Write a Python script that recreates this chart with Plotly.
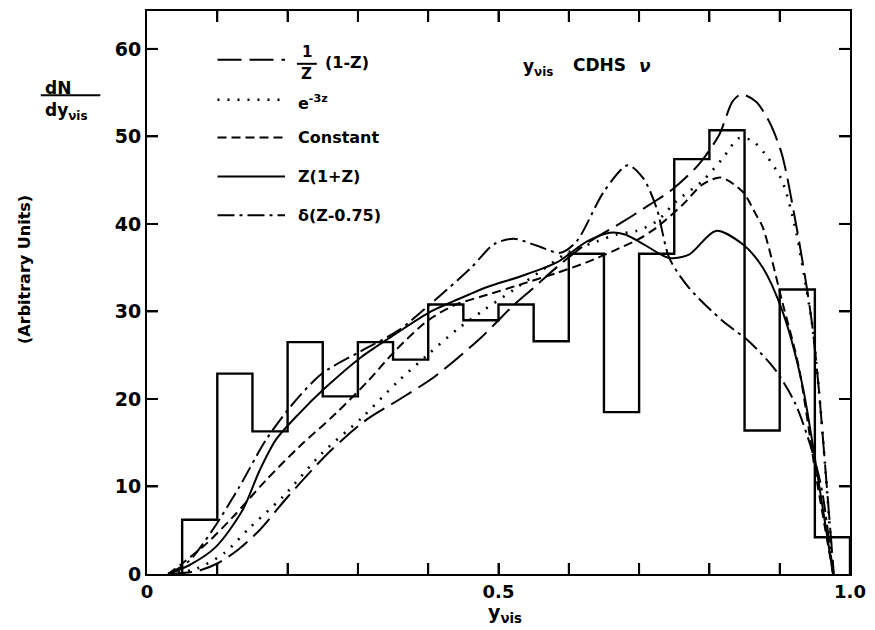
import plotly.graph_objects as go

# ---------------- data ----------------
bin_edges = [0.05, 0.10, 0.15, 0.20, 0.25, 0.30, 0.35, 0.40, 0.45, 0.50,
             0.55, 0.60, 0.65, 0.70, 0.75, 0.80, 0.85, 0.90, 0.95, 1.00]
bin_counts = [6.2, 22.9, 16.3, 26.5, 20.3, 26.5, 24.5, 30.8, 29.0, 30.8,
              26.6, 36.6, 18.5, 36.6, 47.4, 50.7, 16.4, 32.5, 4.2]

inv_x = [0.03, 0.07, 0.10, 0.13, 0.16, 0.20, 0.26, 0.31, 0.36, 0.41, 0.475, 0.52, 0.55,
         0.585, 0.63, 0.68, 0.715, 0.745, 0.785, 0.814, 0.833, 0.845, 0.866, 0.885,
         0.903, 0.922, 0.936, 0.946, 0.955, 0.965, 0.977]
inv_y = [0, 0.3, 1.2, 2.8, 5.0, 8.8, 14.0, 17.5, 20.0, 22.6, 27.0, 30.6, 32.7,
         35.2, 38.0, 40.4, 42.2, 43.8, 46.8, 50.2, 54.0, 54.8, 54.0, 51.7,
         48.0, 40.5, 34.0, 28.6, 21.7, 12.0, 0]

exp_x = [0.03, 0.07, 0.11, 0.145, 0.193, 0.249, 0.305, 0.357, 0.40, 0.442, 0.48, 0.522,
         0.56, 0.60, 0.64, 0.668, 0.696, 0.725, 0.753, 0.79, 0.819, 0.842, 0.861, 0.88,
         0.903, 0.922, 0.936, 0.946, 0.955, 0.965, 0.976]
exp_y = [0, 0.6, 2.4, 5.2, 8.8, 13.8, 17.8, 22.0, 25.1, 28.0, 30.2, 32.5,
         34.6, 36.8, 38.0, 38.8, 39.2, 40.3, 42.6, 44.9, 47.5, 49.8, 49.5, 47.9,
         45.0, 39.6, 33.5, 28.6, 21.7, 12.0, 0]

const_x = [0.03, 0.05, 0.085, 0.122, 0.169, 0.216, 0.268, 0.315, 0.353, 0.40, 0.44, 0.484,
           0.54, 0.583, 0.625, 0.663, 0.70, 0.725, 0.762, 0.79, 0.816, 0.847, 0.866, 0.876,
           0.904, 0.927, 0.95, 0.976]
const_y = [0, 1.2, 3.5, 6.5, 10.7, 14.5, 18.3, 22.1, 25.5, 29.0, 30.8, 31.9,
           33.3, 34.4, 35.6, 36.9, 38.3, 39.6, 42.2, 44.5, 45.3, 43.7, 41.1, 39.6,
           31.0, 23.7, 12.0, 0]

zz_x = [0.03, 0.06, 0.098, 0.136, 0.16, 0.183, 0.216, 0.254, 0.305, 0.353, 0.404, 0.437,
        0.484, 0.531, 0.583, 0.626, 0.658, 0.68, 0.706, 0.743, 0.771, 0.809, 0.847, 0.876,
        0.904, 0.932, 0.955, 0.976]
zz_y = [0, 1.0, 3.1, 7.3, 11.8, 15.3, 18.3, 21.3, 24.8, 27.4, 30.0, 31.2,
        32.8, 34.0, 35.6, 38.0, 39.0, 38.8, 37.7, 36.1, 36.5, 39.2, 37.7, 35.0,
        30.0, 21.7, 10.7, 0]

dlt_x = [0.03, 0.06, 0.093, 0.131, 0.169, 0.207, 0.249, 0.305, 0.357, 0.404, 0.461, 0.494,
         0.522, 0.555, 0.588, 0.611, 0.65, 0.684, 0.706, 0.725, 0.743, 0.771, 0.819, 0.856,
         0.894, 0.922, 0.946, 0.96, 0.976]
dlt_y = [0, 1.5, 5.0, 9.9, 15.3, 19.4, 22.9, 25.5, 27.8, 30.9, 35.0, 37.7,
         38.3, 37.5, 36.7, 38.0, 43.7, 46.7, 45.2, 41.8, 36.1, 32.7, 28.9, 26.6,
         23.3, 19.5, 14.1, 9.6, 0]

x_label_vals = [0, 0.5, 1.0]
x_label_text = ["0", "0.5", "1.0"]
x_tick_vals = [0.1, 0.2, 0.3, 0.4, 0.5, 0.6, 0.7, 0.8, 0.9]
y_tick_vals = [0, 10, 20, 30, 40, 50, 60]

legend_labels = ["(1-Z)", "e<sup>-3z</sup>", "Constant", "Z(1+Z)", "δ(Z-0.75)"]

# ---------------- styles ----------------
FONT = "DejaVu Sans"
W, H = 875, 630
L, R, T, B = 147, 855, 9, 574
TICK = 11  # tick length, px

def PX(px):
    return (px - L) / (R - L)

def PY(py):
    return (B - py) / (B - T)

styles = [
    dict(dash="24px,8px", width=2),           # 1/Z(1-Z)
    dict(dash="2px,8px", width=2.6),          # e^-3z
    dict(dash="9px,5px", width=2),            # Constant
    dict(dash="solid", width=2),              # Z(1+Z)
    dict(dash="17px,5px,3px,5px", width=2),   # delta
]

fig = go.Figure()

# histogram outline built from bin edges / counts (drawn on the tick-carrying x2 axis)
hx, hy = [bin_edges[0]], [0]
for i, v in enumerate(bin_counts):
    hx += [bin_edges[i], bin_edges[i + 1]]
    hy += [v, v]
hx.append(bin_edges[-1])
hy.append(0)
fig.add_trace(go.Scatter(x=hx, y=hy, mode="lines", xaxis="x2",
                         line=dict(color="black", width=2.4), hoverinfo="skip"))

curves = [(inv_x, inv_y), (exp_x, exp_y), (const_x, const_y), (zz_x, zz_y), (dlt_x, dlt_y)]
for (cx, cy), st in zip(curves, styles):
    fig.add_trace(go.Scatter(x=cx, y=cy, mode="lines",
                             line=dict(color="black", width=st["width"], dash=st["dash"],
                                       shape="spline", smoothing=0.8)))

shapes = []
annotations = []

# inward ticks on all four sides, placed through the axis scales
tick_line = dict(color="black", width=2)
for v in x_tick_vals:
    shapes.append(dict(type="line", xref="x", yref="paper", x0=v, x1=v,
                       y0=0, y1=TICK / (B - T), line=tick_line))
    shapes.append(dict(type="line", xref="x", yref="paper", x0=v, x1=v,
                       y0=1, y1=1 - TICK / (B - T), line=tick_line))
for v in y_tick_vals[1:]:
    shapes.append(dict(type="line", xref="paper", yref="y", y0=v, y1=v,
                       x0=0, x1=TICK / (R - L), line=tick_line))
    shapes.append(dict(type="line", xref="paper", yref="y", y0=v, y1=v,
                       x0=1, x1=1 - TICK / (R - L), line=tick_line))

# legend samples and labels
rows = [58, 98, 136, 175, 214]
for st, ry in zip(styles, rows):
    shapes.append(dict(type="line", xref="paper", yref="paper",
                       x0=PX(218), x1=PX(286), y0=PY(ry), y1=PY(ry),
                       line=dict(color="black", width=st["width"], dash=st["dash"])))

# fraction 1/Z
annotations.append(dict(text="1", x=PX(308), y=PY(50), font=dict(size=15)))
shapes.append(dict(type="line", xref="paper", yref="paper",
                   x0=PX(298), x1=PX(318), y0=PY(62), y1=PY(62),
                   line=dict(color="black", width=2)))
annotations.append(dict(text="Z", x=PX(308), y=PY(72), font=dict(size=15)))
annotations.append(dict(text=legend_labels[0], x=PX(324), y=PY(61), xanchor="left"))
annotations.append(dict(text=legend_labels[1], x=PX(297), y=PY(101), xanchor="left"))
for lab, ry in zip(legend_labels[2:], rows[2:]):
    annotations.append(dict(text=lab, x=PX(297), y=PY(ry), xanchor="left"))

# title text inside plot
annotations.append(dict(text="y<sub>νis</sub>", x=PX(524), y=PY(66), xanchor="left", font=dict(size=17)))
annotations.append(dict(text="CDHS", x=PX(574), y=PY(63), xanchor="left", font=dict(size=17)))
annotations.append(dict(text="<i>ν</i>", x=PX(640), y=PY(64), xanchor="left", font=dict(size=17)))

# y-axis label dN/dy
annotations.append(dict(text="dN", x=PX(57), y=PY(86), font=dict(size=17)))
shapes.append(dict(type="line", xref="paper", yref="paper",
                   x0=PX(40), x1=PX(100), y0=PY(93.5), y1=PY(93.5),
                   line=dict(color="black", width=2)))
annotations.append(dict(text="dy<sub>νis</sub>", x=PX(66), y=PY(110), font=dict(size=17)))
annotations.append(dict(text="(Arbitrary Units)", x=PX(23), y=PY(268), textangle=-90,
                        font=dict(size=16)))
# x-axis label
annotations.append(dict(text="y<sub>νis</sub>", x=PX(508), y=PY(614), font=dict(size=19)))

for a in annotations:
    a.setdefault("xref", "paper")
    a.setdefault("yref", "paper")
    a.setdefault("showarrow", False)
    a.setdefault("xanchor", "center")
    a.setdefault("yanchor", "middle")
    a.setdefault("font", dict(size=16))
    a["font"] = dict(family=FONT, color="black", weight="bold", **a["font"])

fig.update_layout(
    width=W, height=H,
    margin=dict(l=L, r=W - R, t=T, b=H - B, pad=0),
    paper_bgcolor="white", plot_bgcolor="white",
    showlegend=False,
    shapes=shapes, annotations=annotations,
    font=dict(family=FONT, color="black", size=18, weight="bold"),
    xaxis=dict(range=[0, 1.0], tickvals=x_label_vals, ticktext=x_label_text,
               ticks="", showline=True, linewidth=2, linecolor="black", mirror=True,
               showgrid=False, zeroline=False,
               tickfont=dict(size=18, family=FONT, weight="bold")),
    xaxis2=dict(range=[0, 1.0], overlaying="x", side="bottom", tickvals=x_tick_vals,
                ticks="inside", ticklen=TICK, tickwidth=2, tickcolor="black",
                mirror="ticks", showline=False, showticklabels=False,
                showgrid=False, zeroline=False),
    yaxis=dict(range=[0, 64.33], tickvals=y_tick_vals,
               ticks="inside", ticklen=TICK, tickwidth=2, tickcolor="black",
               showline=True, linewidth=2, linecolor="black", mirror="ticks",
               showgrid=False, zeroline=False,
               tickfont=dict(size=19, family=FONT, weight="bold")),
)

fig.write_html("out.html")
